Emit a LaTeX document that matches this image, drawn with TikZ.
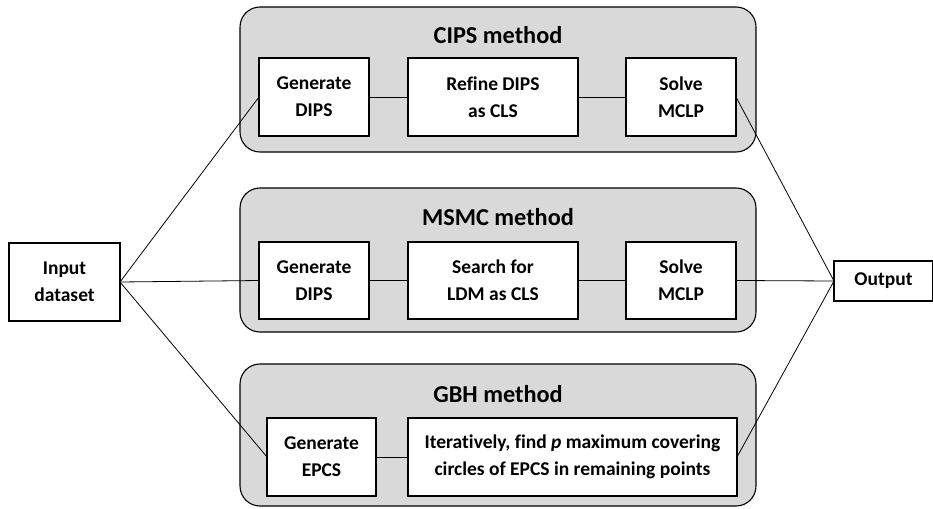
\documentclass[tikz,border=0pt]{standalone}
\usepackage{fontspec}
\setmainfont{Carlito}[Ligatures={NoCommon}]
\definecolor{grpfill}{HTML}{D9D9D9}
\begin{document}
\begin{tikzpicture}[x=1pt,y=-1pt,
  grp/.style={draw, rounded corners=20pt, fill=grpfill, line width=1.1pt, inner sep=0pt, outer sep=0pt},
  box/.style={draw, fill=white, line width=1.2pt, align=center, inner sep=0pt, outer sep=0pt,
    font=\fontsize{19.5}{27}\selectfont\bfseries},
  ttl/.style={font=\fontsize{24.3}{28}\selectfont\bfseries, anchor=base, inner sep=0pt},
  conn/.style={line width=0.8pt}]
\useasboundingbox (0,0) rectangle (933,508);
% groups
\node[grp, minimum width=516pt, minimum height=145pt] (G1) at (498,79.5) {};
\node[grp, minimum width=516pt, minimum height=144pt] (G2) at (498,260) {};
\node[grp, minimum width=516pt, minimum height=142pt] (G3) at (498,435) {};
\node[ttl] (T1) at (498,44) {CIPS method};
\node[ttl] (T2) at (498,225) {MSMC method};
\node[ttl] (T3) at (498,402) {GBH method};
% boxes
\node[box, minimum width=110pt, minimum height=78pt] (a1) at (314,97) {Generate\\DIPS};
\node[box, minimum width=170pt, minimum height=78pt] (b1) at (493,97) {Refine DIPS\\as CLS};
\node[box, minimum width=110pt, minimum height=78pt] (c1) at (681,97) {Solve\\MCLP};
\node[box, minimum width=110pt, minimum height=77pt] (a2) at (314,280.5) {Generate\\DIPS};
\node[box, minimum width=170pt, minimum height=77pt] (b2) at (493,280.5) {Search for\\LDM as CLS};
\node[box, minimum width=110pt, minimum height=77pt] (c2) at (681,280.5) {Solve\\MCLP};
\node[box, minimum width=109pt, minimum height=78pt] (a3) at (321.5,457) {Generate\\EPCS};
\node[box, minimum width=329pt, minimum height=78pt] (b3) at (572.5,457) {Iteratively, find \textit{p} maximum covering\\circles of EPCS in remaining points};
\node[box, minimum width=111pt, minimum height=78pt] (in) at (64.5,282) {Input\\dataset};
\node[box, minimum width=99pt, minimum height=40pt] (out) at (883.5,281) {Output};
% connectors
\draw[conn] (a1.east) -- (b1.west);
\draw[conn] (b1.east) -- (c1.west);
\draw[conn] (a2.east) -- (b2.west);
\draw[conn] (b2.east) -- (c2.west);
\draw[conn] (a3.east) -- (b3.west);
\draw[conn] (in.east) -- (a1.west);
\draw[conn] (in.east) -- (a2.west);
\draw[conn] (in.east) -- (a3.west);
\draw[conn] (c1.east) -- (out.west);
\draw[conn] (c2.east) -- (out.west);
\draw[conn] (b3.east) -- (out.west);
\end{tikzpicture}
\end{document}
